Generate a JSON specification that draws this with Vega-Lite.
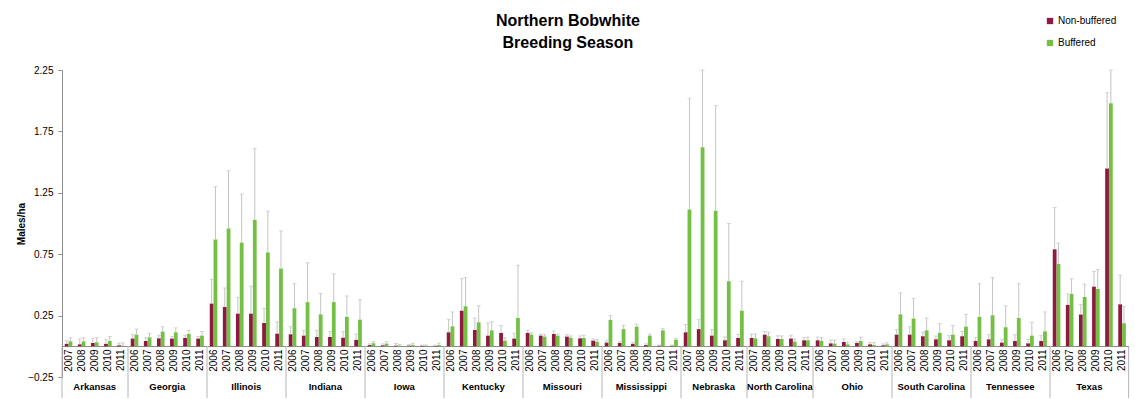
{
  "$schema": "https://vega.github.io/schema/vega-lite/v6.json",
  "padding": {"left": 16, "top": 13, "right": 5, "bottom": 5},
  "title": {"text": ["Northern Bobwhite", "Breeding Season"], "font": "Liberation Sans", "fontSize": 16, "fontWeight": "bold", "lineHeight": 22, "anchor": "middle", "dx": -5, "offset": -35, "color": "#000000"},
  "data": {"values": [
    {"state":"Arkansas","year":2007,"series":"Non-buffered","value":0.02,"upper":0.046},
    {"state":"Arkansas","year":2008,"series":"Non-buffered","value":0.016,"upper":0.06},
    {"state":"Arkansas","year":2009,"series":"Non-buffered","value":0.027,"upper":0.065},
    {"state":"Arkansas","year":2010,"series":"Non-buffered","value":0.02,"upper":0.054},
    {"state":"Arkansas","year":2011,"series":"Non-buffered","value":0.008,"upper":0.027},
    {"state":"Arkansas","year":2007,"series":"Buffered","value":0.04,"upper":0.07},
    {"state":"Arkansas","year":2008,"series":"Buffered","value":0.04,"upper":0.07},
    {"state":"Arkansas","year":2009,"series":"Buffered","value":0.033,"upper":0.07},
    {"state":"Arkansas","year":2010,"series":"Buffered","value":0.043,"upper":0.08},
    {"state":"Arkansas","year":2011,"series":"Buffered","value":0.005,"upper":0.027},
    {"state":"Georgia","year":2006,"series":"Non-buffered","value":0.063,"upper":0.095},
    {"state":"Georgia","year":2007,"series":"Non-buffered","value":0.043,"upper":0.07},
    {"state":"Georgia","year":2008,"series":"Non-buffered","value":0.065,"upper":0.09},
    {"state":"Georgia","year":2009,"series":"Non-buffered","value":0.063,"upper":0.08},
    {"state":"Georgia","year":2010,"series":"Non-buffered","value":0.068,"upper":0.09},
    {"state":"Georgia","year":2011,"series":"Non-buffered","value":0.063,"upper":0.08},
    {"state":"Georgia","year":2006,"series":"Buffered","value":0.095,"upper":0.14},
    {"state":"Georgia","year":2007,"series":"Buffered","value":0.073,"upper":0.106},
    {"state":"Georgia","year":2008,"series":"Buffered","value":0.12,"upper":0.16},
    {"state":"Georgia","year":2009,"series":"Buffered","value":0.114,"upper":0.15},
    {"state":"Georgia","year":2010,"series":"Buffered","value":0.1,"upper":0.13},
    {"state":"Georgia","year":2011,"series":"Buffered","value":0.087,"upper":0.12},
    {"state":"Illinois","year":2006,"series":"Non-buffered","value":0.348,"upper":0.546},
    {"state":"Illinois","year":2007,"series":"Non-buffered","value":0.32,"upper":0.475},
    {"state":"Illinois","year":2008,"series":"Non-buffered","value":0.266,"upper":0.4},
    {"state":"Illinois","year":2009,"series":"Non-buffered","value":0.266,"upper":0.49},
    {"state":"Illinois","year":2010,"series":"Non-buffered","value":0.19,"upper":0.307},
    {"state":"Illinois","year":2011,"series":"Non-buffered","value":0.103,"upper":0.2},
    {"state":"Illinois","year":2006,"series":"Buffered","value":0.87,"upper":1.3},
    {"state":"Illinois","year":2007,"series":"Buffered","value":0.96,"upper":1.43},
    {"state":"Illinois","year":2008,"series":"Buffered","value":0.845,"upper":1.24},
    {"state":"Illinois","year":2009,"series":"Buffered","value":1.03,"upper":1.61},
    {"state":"Illinois","year":2010,"series":"Buffered","value":0.764,"upper":1.1},
    {"state":"Illinois","year":2011,"series":"Buffered","value":0.633,"upper":0.94},
    {"state":"Indiana","year":2006,"series":"Non-buffered","value":0.098,"upper":0.16},
    {"state":"Indiana","year":2007,"series":"Non-buffered","value":0.087,"upper":0.13},
    {"state":"Indiana","year":2008,"series":"Non-buffered","value":0.076,"upper":0.13},
    {"state":"Indiana","year":2009,"series":"Non-buffered","value":0.076,"upper":0.12},
    {"state":"Indiana","year":2010,"series":"Non-buffered","value":0.07,"upper":0.12},
    {"state":"Indiana","year":2011,"series":"Non-buffered","value":0.052,"upper":0.1},
    {"state":"Indiana","year":2006,"series":"Buffered","value":0.31,"upper":0.51},
    {"state":"Indiana","year":2007,"series":"Buffered","value":0.36,"upper":0.68},
    {"state":"Indiana","year":2008,"series":"Buffered","value":0.26,"upper":0.43},
    {"state":"Indiana","year":2009,"series":"Buffered","value":0.36,"upper":0.59},
    {"state":"Indiana","year":2010,"series":"Buffered","value":0.24,"upper":0.41},
    {"state":"Indiana","year":2011,"series":"Buffered","value":0.217,"upper":0.38},
    {"state":"Iowa","year":2006,"series":"Non-buffered","value":0.01,"upper":0.02},
    {"state":"Iowa","year":2007,"series":"Non-buffered","value":0.008,"upper":0.02},
    {"state":"Iowa","year":2008,"series":"Non-buffered","value":0.005,"upper":0.022},
    {"state":"Iowa","year":2009,"series":"Non-buffered","value":0.005,"upper":0.015},
    {"state":"Iowa","year":2010,"series":"Non-buffered","value":0.004,"upper":0.01},
    {"state":"Iowa","year":2011,"series":"Non-buffered","value":0.003,"upper":0.01},
    {"state":"Iowa","year":2006,"series":"Buffered","value":0.025,"upper":0.038},
    {"state":"Iowa","year":2007,"series":"Buffered","value":0.022,"upper":0.038},
    {"state":"Iowa","year":2008,"series":"Buffered","value":0.005,"upper":0.015},
    {"state":"Iowa","year":2009,"series":"Buffered","value":0.01,"upper":0.022},
    {"state":"Iowa","year":2010,"series":"Buffered","value":0.005,"upper":0.01},
    {"state":"Iowa","year":2011,"series":"Buffered","value":0.01,"upper":0.027},
    {"state":"Kentucky","year":2006,"series":"Non-buffered","value":0.114,"upper":0.22},
    {"state":"Kentucky","year":2007,"series":"Non-buffered","value":0.29,"upper":0.55},
    {"state":"Kentucky","year":2008,"series":"Non-buffered","value":0.133,"upper":0.23},
    {"state":"Kentucky","year":2009,"series":"Non-buffered","value":0.087,"upper":0.19},
    {"state":"Kentucky","year":2010,"series":"Non-buffered","value":0.109,"upper":0.17},
    {"state":"Kentucky","year":2011,"series":"Non-buffered","value":0.063,"upper":0.106},
    {"state":"Kentucky","year":2006,"series":"Buffered","value":0.163,"upper":0.28},
    {"state":"Kentucky","year":2007,"series":"Buffered","value":0.326,"upper":0.56},
    {"state":"Kentucky","year":2008,"series":"Buffered","value":0.196,"upper":0.33},
    {"state":"Kentucky","year":2009,"series":"Buffered","value":0.13,"upper":0.2},
    {"state":"Kentucky","year":2010,"series":"Buffered","value":0.046,"upper":0.07},
    {"state":"Kentucky","year":2011,"series":"Buffered","value":0.23,"upper":0.66},
    {"state":"Missouri","year":2006,"series":"Non-buffered","value":0.109,"upper":0.13},
    {"state":"Missouri","year":2007,"series":"Non-buffered","value":0.087,"upper":0.1},
    {"state":"Missouri","year":2008,"series":"Non-buffered","value":0.1,"upper":0.125},
    {"state":"Missouri","year":2009,"series":"Non-buffered","value":0.079,"upper":0.095},
    {"state":"Missouri","year":2010,"series":"Non-buffered","value":0.065,"upper":0.085},
    {"state":"Missouri","year":2011,"series":"Non-buffered","value":0.046,"upper":0.06},
    {"state":"Missouri","year":2006,"series":"Buffered","value":0.095,"upper":0.11},
    {"state":"Missouri","year":2007,"series":"Buffered","value":0.079,"upper":0.095},
    {"state":"Missouri","year":2008,"series":"Buffered","value":0.087,"upper":0.1},
    {"state":"Missouri","year":2009,"series":"Buffered","value":0.07,"upper":0.085},
    {"state":"Missouri","year":2010,"series":"Buffered","value":0.068,"upper":0.09},
    {"state":"Missouri","year":2011,"series":"Buffered","value":0.038,"upper":0.055},
    {"state":"Mississippi","year":2006,"series":"Non-buffered","value":0.03,"upper":0.045},
    {"state":"Mississippi","year":2007,"series":"Non-buffered","value":0.027,"upper":0.04},
    {"state":"Mississippi","year":2008,"series":"Non-buffered","value":0.02,"upper":0.03},
    {"state":"Mississippi","year":2009,"series":"Non-buffered","value":0.01,"upper":0.02},
    {"state":"Mississippi","year":2010,"series":"Non-buffered","value":0.005,"upper":0.01},
    {"state":"Mississippi","year":2011,"series":"Non-buffered","value":0.005,"upper":0.01},
    {"state":"Mississippi","year":2006,"series":"Buffered","value":0.215,"upper":0.25},
    {"state":"Mississippi","year":2007,"series":"Buffered","value":0.14,"upper":0.17},
    {"state":"Mississippi","year":2008,"series":"Buffered","value":0.16,"upper":0.18},
    {"state":"Mississippi","year":2009,"series":"Buffered","value":0.087,"upper":0.1},
    {"state":"Mississippi","year":2010,"series":"Buffered","value":0.13,"upper":0.144},
    {"state":"Mississippi","year":2011,"series":"Buffered","value":0.054,"upper":0.065},
    {"state":"Nebraska","year":2007,"series":"Non-buffered","value":0.114,"upper":0.177},
    {"state":"Nebraska","year":2008,"series":"Non-buffered","value":0.14,"upper":0.217},
    {"state":"Nebraska","year":2009,"series":"Non-buffered","value":0.087,"upper":0.136},
    {"state":"Nebraska","year":2010,"series":"Non-buffered","value":0.049,"upper":0.076},
    {"state":"Nebraska","year":2011,"series":"Non-buffered","value":0.068,"upper":0.098},
    {"state":"Nebraska","year":2007,"series":"Buffered","value":1.114,"upper":2.02},
    {"state":"Nebraska","year":2008,"series":"Buffered","value":1.62,"upper":2.25},
    {"state":"Nebraska","year":2009,"series":"Buffered","value":1.103,"upper":1.96},
    {"state":"Nebraska","year":2010,"series":"Buffered","value":0.53,"upper":1.0},
    {"state":"Nebraska","year":2011,"series":"Buffered","value":0.29,"upper":0.53},
    {"state":"North Carolina","year":2007,"series":"Non-buffered","value":0.068,"upper":0.1},
    {"state":"North Carolina","year":2008,"series":"Non-buffered","value":0.095,"upper":0.12},
    {"state":"North Carolina","year":2009,"series":"Non-buffered","value":0.06,"upper":0.085},
    {"state":"North Carolina","year":2010,"series":"Non-buffered","value":0.063,"upper":0.09},
    {"state":"North Carolina","year":2011,"series":"Non-buffered","value":0.049,"upper":0.07},
    {"state":"North Carolina","year":2007,"series":"Buffered","value":0.065,"upper":0.1},
    {"state":"North Carolina","year":2008,"series":"Buffered","value":0.082,"upper":0.115},
    {"state":"North Carolina","year":2009,"series":"Buffered","value":0.06,"upper":0.085},
    {"state":"North Carolina","year":2010,"series":"Buffered","value":0.038,"upper":0.06},
    {"state":"North Carolina","year":2011,"series":"Buffered","value":0.049,"upper":0.075},
    {"state":"Ohio","year":2006,"series":"Non-buffered","value":0.049,"upper":0.075},
    {"state":"Ohio","year":2007,"series":"Non-buffered","value":0.024,"upper":0.05},
    {"state":"Ohio","year":2008,"series":"Non-buffered","value":0.035,"upper":0.06},
    {"state":"Ohio","year":2009,"series":"Non-buffered","value":0.027,"upper":0.04},
    {"state":"Ohio","year":2010,"series":"Non-buffered","value":0.016,"upper":0.03},
    {"state":"Ohio","year":2011,"series":"Non-buffered","value":0.008,"upper":0.02},
    {"state":"Ohio","year":2006,"series":"Buffered","value":0.043,"upper":0.07},
    {"state":"Ohio","year":2007,"series":"Buffered","value":0.022,"upper":0.05},
    {"state":"Ohio","year":2008,"series":"Buffered","value":0.016,"upper":0.035},
    {"state":"Ohio","year":2009,"series":"Buffered","value":0.043,"upper":0.075},
    {"state":"Ohio","year":2010,"series":"Buffered","value":0.011,"upper":0.03},
    {"state":"Ohio","year":2011,"series":"Buffered","value":0.016,"upper":0.03},
    {"state":"South Carolina","year":2006,"series":"Non-buffered","value":0.095,"upper":0.136},
    {"state":"South Carolina","year":2007,"series":"Non-buffered","value":0.095,"upper":0.16},
    {"state":"South Carolina","year":2008,"series":"Non-buffered","value":0.082,"upper":0.117},
    {"state":"South Carolina","year":2009,"series":"Non-buffered","value":0.057,"upper":0.084},
    {"state":"South Carolina","year":2010,"series":"Non-buffered","value":0.049,"upper":0.087},
    {"state":"South Carolina","year":2011,"series":"Non-buffered","value":0.082,"upper":0.12},
    {"state":"South Carolina","year":2006,"series":"Buffered","value":0.26,"upper":0.435},
    {"state":"South Carolina","year":2007,"series":"Buffered","value":0.226,"upper":0.39},
    {"state":"South Carolina","year":2008,"series":"Buffered","value":0.13,"upper":0.23},
    {"state":"South Carolina","year":2009,"series":"Buffered","value":0.109,"upper":0.185},
    {"state":"South Carolina","year":2010,"series":"Buffered","value":0.095,"upper":0.17},
    {"state":"South Carolina","year":2011,"series":"Buffered","value":0.16,"upper":0.26},
    {"state":"Tennessee","year":2006,"series":"Non-buffered","value":0.043,"upper":0.07},
    {"state":"Tennessee","year":2007,"series":"Non-buffered","value":0.057,"upper":0.095},
    {"state":"Tennessee","year":2008,"series":"Non-buffered","value":0.03,"upper":0.057},
    {"state":"Tennessee","year":2009,"series":"Non-buffered","value":0.043,"upper":0.095},
    {"state":"Tennessee","year":2010,"series":"Non-buffered","value":0.024,"upper":0.057},
    {"state":"Tennessee","year":2011,"series":"Non-buffered","value":0.043,"upper":0.087},
    {"state":"Tennessee","year":2006,"series":"Buffered","value":0.24,"upper":0.51},
    {"state":"Tennessee","year":2007,"series":"Buffered","value":0.253,"upper":0.56},
    {"state":"Tennessee","year":2008,"series":"Buffered","value":0.155,"upper":0.33},
    {"state":"Tennessee","year":2009,"series":"Buffered","value":0.23,"upper":0.51},
    {"state":"Tennessee","year":2010,"series":"Buffered","value":0.087,"upper":0.196},
    {"state":"Tennessee","year":2011,"series":"Buffered","value":0.122,"upper":0.28},
    {"state":"Texas","year":2006,"series":"Non-buffered","value":0.79,"upper":1.13},
    {"state":"Texas","year":2007,"series":"Non-buffered","value":0.337,"upper":0.427},
    {"state":"Texas","year":2008,"series":"Non-buffered","value":0.258,"upper":0.34},
    {"state":"Texas","year":2009,"series":"Non-buffered","value":0.486,"upper":0.61},
    {"state":"Texas","year":2010,"series":"Non-buffered","value":1.448,"upper":2.065},
    {"state":"Texas","year":2011,"series":"Non-buffered","value":0.342,"upper":0.58},
    {"state":"Texas","year":2006,"series":"Buffered","value":0.67,"upper":0.84},
    {"state":"Texas","year":2007,"series":"Buffered","value":0.427,"upper":0.55},
    {"state":"Texas","year":2008,"series":"Buffered","value":0.402,"upper":0.505},
    {"state":"Texas","year":2009,"series":"Buffered","value":0.467,"upper":0.625},
    {"state":"Texas","year":2010,"series":"Buffered","value":1.98,"upper":2.25},
    {"state":"Texas","year":2011,"series":"Buffered","value":0.188,"upper":0.326}
  ]},
  "facet": {
    "column": {
      "field": "state", "type": "nominal",
      "sort": ["Arkansas","Georgia","Illinois","Indiana","Iowa","Kentucky","Missouri","Mississippi","Nebraska","North Carolina","Ohio","South Carolina","Tennessee","Texas"],
      "title": null,
      "header": {"labelOrient": "bottom", "labelFont": "Liberation Sans", "labelFontSize": 9.5, "labelFontWeight": "bold", "labelColor": "#000000", "labelPadding": 5}
    }
  },
  "spacing": 0,
  "bounds": "flush",
  "resolve": {"scale": {"x": "independent"}},
  "spec": {
    "width": {"step": 3.8, "for": "offset"},
    "height": 307,
    "layer": [
      {
        "mark": {"type": "bar"},
        "encoding": {
          "x": {"field": "year", "type": "ordinal", "scale": {"paddingInner": 0.42, "paddingOuter": 0.21},
                "axis": {"title": null, "ticks": false, "labelAngle": -90, "labelFontSize": 10, "labelPadding": 3, "offset": -31, "domainColor": "#8c8c8c", "labelColor": "#000000", "labelOverlap": false, "labelFont": "Liberation Sans"}},
          "xOffset": {"field": "series", "type": "nominal", "sort": ["Non-buffered","Buffered"], "scale": {"paddingInner": 0, "paddingOuter": 0}},
          "y": {"field": "value", "type": "quantitative", "scale": {"domain": [-0.25, 2.25], "nice": false, "zero": false},
                "axis": {"title": "Males/ha", "titleFont": "Liberation Sans", "titleFontSize": 10, "titleFontWeight": "bold", "titlePadding": 1, "titleColor": "#000000", "values": [-0.25, 0.25, 0.75, 1.25, 1.75, 2.25], "format": ".2f", "grid": false, "tickSize": 4, "labelPadding": 5, "labelFontSize": 10, "labelFont": "Liberation Sans", "labelColor": "#000000", "domainColor": "#8c8c8c", "tickColor": "#8c8c8c"}},
          "color": {"field": "series", "type": "nominal", "sort": ["Non-buffered","Buffered"],
                    "scale": {"range": ["#8F1A3F", "#74C044"]},
                    "legend": {"title": null, "orient": "none", "legendX": 983, "legendY": -54, "symbolType": "square", "symbolSize": 40, "symbolStrokeWidth": 0, "labelOffset": 3, "labelFont": "Liberation Sans", "labelFontSize": 10, "labelColor": "#000000", "rowPadding": 12}}
        }
      },
      {
        "mark": {"type": "rule", "color": "#c4c4c4", "strokeWidth": 1},
        "encoding": {
          "x": {"field": "year", "type": "ordinal"},
          "xOffset": {"field": "series", "type": "nominal", "sort": ["Non-buffered","Buffered"]},
          "y": {"field": "value", "type": "quantitative"},
          "y2": {"field": "upper"}
        }
      },
      {
        "mark": {"type": "tick", "color": "#c4c4c4", "size": 4, "thickness": 1},
        "encoding": {
          "x": {"field": "year", "type": "ordinal"},
          "xOffset": {"field": "series", "type": "nominal", "sort": ["Non-buffered","Buffered"]},
          "y": {"field": "upper", "type": "quantitative"}
        }
      },
      {
        "transform": [
          {"joinaggregate": [{"op": "min", "field": "year", "as": "first"}], "groupby": ["state"]},
          {"filter": "datum.year == datum.first && datum.series == 'Buffered'"}
        ],
        "mark": {"type": "rule", "color": "#b4b4b4", "strokeWidth": 1},
        "encoding": {
          "x": {"field": "year", "type": "ordinal", "bandPosition": -0.362},
          "y": {"datum": 0},
          "y2": {"datum": -0.42}
        }
      },
      {
        "transform": [
          {"filter": "datum.state == 'Texas' && datum.year == 2011 && datum.series == 'Buffered'"}
        ],
        "mark": {"type": "rule", "color": "#b4b4b4", "strokeWidth": 1},
        "encoding": {
          "x": {"field": "year", "type": "ordinal", "bandPosition": 1.362},
          "y": {"datum": 0},
          "y2": {"datum": -0.42}
        }
      }
    ]
  },
  "config": {"view": {"stroke": null}, "font": "Liberation Sans"}
}
